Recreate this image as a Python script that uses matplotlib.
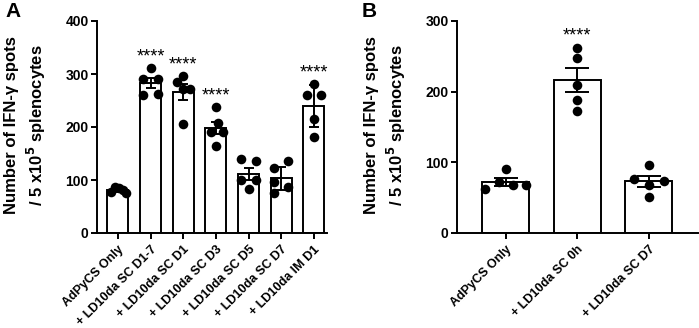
import matplotlib.pyplot as plt
import numpy as np

plt.rcParams['font.family'] = ['Liberation Sans', 'DejaVu Sans']
plt.rcParams['font.weight'] = 'bold'

# panel A
groups_a = ['AdPyCS Only', '+ LD10da SC D1-7', '+ LD10da SC D1', '+ LD10da SC D3',
            '+ LD10da SC D5', '+ LD10da SC D7', '+ LD10da IM D1']
points_a = [[77, 87, 85, 81, 75],
            [312, 290, 290, 260, 262],
            [285, 296, 272, 272, 205],
            [237, 191, 208, 191, 164],
            [139, 135, 100, 100, 83],
            [122, 135, 97, 87, 75],
            [281, 260, 260, 216, 182]]
err_a = [4, 9, 15, 12, 11, 22, 40]
stars_a = ['', '****', '****', '****', '', '', '****']

# panel B
groups_b = ['AdPyCS Only', '+ LD10da SC 0h', '+ LD10da SC D7']
points_b = [[91, 62, 72, 68, 68],
            [262, 248, 209, 188, 173],
            [96, 77, 68, 74, 51]]
err_b = [5.7, 17, 7.4]
stars_b = ['', '****', '']

# horizontal spread of the dots inside each bar
spread_a = [[-0.21, -0.09, 0.03, 0.15, 0.24],
            [0, -0.22, 0.22, -0.22, 0.22],
            [-0.2, 0, 0, 0.2, 0],
            [0, -0.15, 0.05, 0.22, 0],
            [-0.22, 0.22, -0.22, 0.22, 0],
            [-0.23, 0.22, -0.23, 0.22, -0.23],
            [0, -0.22, 0.22, 0, 0]]
spread_b = [[0, -0.29, -0.09, 0.1, 0.28],
            [0, 0, 0, 0, 0],
            [0, -0.21, 0, 0.21, 0]]

fig = plt.figure(figsize=(6.99, 3.28), dpi=100)
axA = fig.add_axes([97/699, 1-233/328, 230/699, 212/328])
axB = fig.add_axes([457/699, 1-233/328, 241/699, 212/328])


def panel(ax, groups, points, err, stars, spread, width, capsize, ymax, ystep, xlim):
    x = np.arange(len(groups))
    means = [np.mean(p) for p in points]
    ax.bar(x, means, width=width, color='white', edgecolor='black', linewidth=1.4, zorder=1)
    ax.errorbar(x, means, yerr=err, fmt='none', ecolor='black', elinewidth=1.4,
                capsize=capsize, capthick=1.4, zorder=2)
    for i, pts in enumerate(points):
        ax.scatter(x[i] + np.array(spread[i]), pts, s=48, color='black', zorder=3,
                   linewidths=0)
        if stars[i]:
            ax.text(x[i], max(pts) + 5, stars[i], ha='center', va='bottom',
                    fontsize=13, fontweight='normal')
    ax.set_xlim(*xlim)
    ax.set_ylim(0, ymax)
    ax.set_yticks(np.arange(0, ymax + 1, ystep))
    ax.set_xticks(x)
    ax.set_xticklabels(groups, rotation=45, ha='right', rotation_mode='anchor',
                       fontsize=9, fontweight='bold')
    for lab in ax.get_yticklabels():
        lab.set_fontsize(10)
        lab.set_fontweight('bold')
    for s in ['top', 'right']:
        ax.spines[s].set_visible(False)
    for s in ['left', 'bottom']:
        ax.spines[s].set_linewidth(1.4)
    ax.tick_params(axis='both', width=1.4, length=4, pad=2)
    ax.tick_params(axis='x', pad=3.5)


panel(axA, groups_a, points_a, err_a, stars_a, spread_a, 0.64, 3.3, 400, 100, (-0.64, 6.4))
panel(axB, groups_b, points_b, err_b, stars_b, spread_b, 0.66, 8.5, 300, 100, (-0.68, 2.69))

ylabel = 'Number of IFN-\u03b3 spots\n/ 5 x10$^{\\mathbf{5}}$ splenocytes'
fig.text(26/699, 1-125/328, ylabel, rotation=90, ha='center', va='center',
         fontsize=12, fontweight='bold', multialignment='center', linespacing=1.3)
fig.text(386/699, 1-125/328, ylabel, rotation=90, ha='center', va='center',
         fontsize=12, fontweight='bold', multialignment='center', linespacing=1.3)

fig.text(5/699, 1-2/328, 'A', ha='left', va='top', fontsize=15, fontweight='bold')
fig.text(362/699, 1-2/328, 'B', ha='left', va='top', fontsize=15, fontweight='bold')

fig.savefig('out.png', dpi=100)
